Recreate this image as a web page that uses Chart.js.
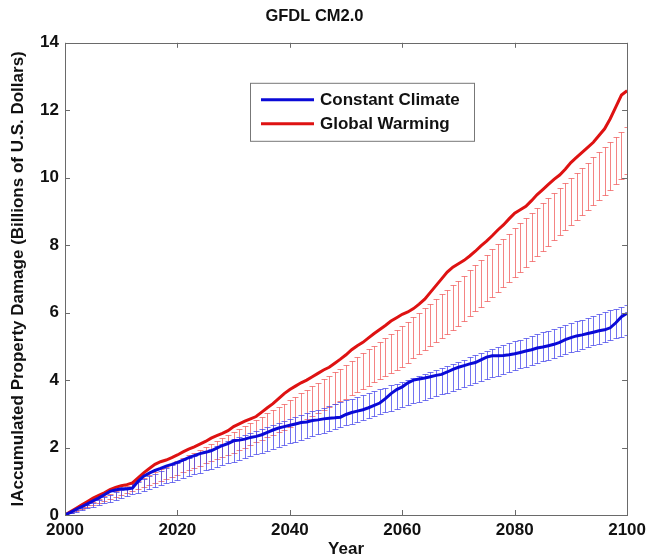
<!DOCTYPE html>
<html>
<head>
<meta charset="utf-8">
<script src="https://cdn.jsdelivr.net/npm/chart.js@4.4.1/dist/chart.umd.min.js"></script>
<style>
  html, body { margin: 0; padding: 0; background: #fff; }
  #wrap { width: 651px; height: 560px; }
</style>
</head>
<body>
<div id="wrap"><canvas id="damage"></canvas></div>
<script>
//================ data ================

// one value per year, 2000 .. 2100
var years = [];
for (var yr = 2000; yr <= 2100; yr++) years.push(yr);

var xTicks = [2000, 2020, 2040, 2060, 2080, 2100];
var yTicks = [0, 2, 4, 6, 8, 10, 12, 14];

// Constant Climate - thick line
var constantMean = [0,
  0.08, 0.17, 0.25, 0.33, 0.42, 0.5, 0.6, 0.7, 0.74, 0.78,
  0.77, 0.8, 1.0, 1.15, 1.24, 1.32, 1.38, 1.45, 1.5, 1.56,
  1.63, 1.7, 1.76, 1.82, 1.86, 1.9, 1.98, 2.06, 2.12, 2.2,
  2.22, 2.25, 2.3, 2.33, 2.38, 2.45, 2.52, 2.58, 2.62, 2.66,
  2.7, 2.74, 2.76, 2.8, 2.82, 2.85, 2.87, 2.88, 2.9, 2.98,
  3.04, 3.08, 3.12, 3.18, 3.25, 3.32, 3.45, 3.6, 3.72, 3.8,
  3.92, 4.0, 4.03, 4.06, 4.1, 4.14, 4.17, 4.24, 4.32, 4.38,
  4.43, 4.48, 4.52, 4.6, 4.68, 4.72, 4.72, 4.73, 4.75, 4.78,
  4.82, 4.86, 4.9, 4.95, 4.98, 5.02, 5.06, 5.12, 5.2, 5.26,
  5.31, 5.34, 5.38, 5.42, 5.46, 5.49, 5.55, 5.7, 5.88, 5.98];

// Constant Climate - error bar top / bottom
var constantHi = [0,
  0.07, 0.15, 0.22, 0.3, 0.37, 0.45, 0.52, 0.6, 0.67, 0.75,
  0.83, 0.91, 0.99, 1.07, 1.15, 1.23, 1.31, 1.39, 1.47, 1.55,
  1.62, 1.69, 1.76, 1.83, 1.9, 1.97, 2.04, 2.11, 2.18, 2.25,
  2.31, 2.37, 2.43, 2.49, 2.55, 2.61, 2.67, 2.73, 2.79, 2.85,
  2.9, 2.96, 3.01, 3.07, 3.12, 3.18, 3.23, 3.29, 3.34, 3.4,
  3.45, 3.51, 3.56, 3.62, 3.67, 3.73, 3.78, 3.84, 3.89, 3.95,
  4.01, 4.07, 4.13, 4.19, 4.25, 4.31, 4.37, 4.43, 4.49, 4.55,
  4.61, 4.67, 4.73, 4.79, 4.85, 4.91, 4.97, 5.03, 5.09, 5.15,
  5.2, 5.26, 5.31, 5.36, 5.42, 5.47, 5.52, 5.58, 5.63, 5.68,
  5.74, 5.79, 5.85, 5.9, 5.96, 6.01, 6.07, 6.12, 6.18, 6.23];
var constantLo = [0,
  0.05, 0.1, 0.15, 0.2, 0.25, 0.3, 0.35, 0.4, 0.45, 0.5,
  0.55, 0.61, 0.66, 0.72, 0.77, 0.83, 0.88, 0.94, 0.99, 1.05,
  1.1, 1.16, 1.21, 1.26, 1.32, 1.37, 1.42, 1.48, 1.53, 1.58,
  1.63, 1.69, 1.74, 1.8, 1.85, 1.9, 1.96, 2.01, 2.07, 2.12,
  2.17, 2.23, 2.28, 2.34, 2.39, 2.44, 2.5, 2.55, 2.61, 2.66,
  2.71, 2.77, 2.82, 2.88, 2.93, 2.98, 3.04, 3.09, 3.15, 3.2,
  3.25, 3.31, 3.36, 3.42, 3.47, 3.52, 3.58, 3.63, 3.69, 3.74,
  3.8, 3.85, 3.91, 3.97, 4.02, 4.08, 4.13, 4.19, 4.24, 4.3,
  4.35, 4.4, 4.46, 4.51, 4.56, 4.61, 4.66, 4.72, 4.77, 4.82,
  4.87, 4.92, 4.98, 5.03, 5.08, 5.13, 5.18, 5.24, 5.29, 5.34];

// Global Warming - thick line
var warmingMean = [0,
  0.1, 0.2, 0.3, 0.4, 0.5, 0.58, 0.66, 0.75, 0.82, 0.87,
  0.9, 0.95, 1.1, 1.25, 1.38, 1.5, 1.58, 1.63, 1.7, 1.78,
  1.87, 1.95, 2.02, 2.1, 2.18, 2.28, 2.35, 2.42, 2.5, 2.62,
  2.7, 2.78, 2.85, 2.92, 3.05, 3.18, 3.3, 3.45, 3.6, 3.72,
  3.82, 3.92, 4.0, 4.1, 4.2, 4.3, 4.38, 4.5, 4.62, 4.75,
  4.9, 5.02, 5.12, 5.25, 5.38, 5.5, 5.62, 5.75, 5.85, 5.95,
  6.02, 6.12, 6.25, 6.4, 6.6, 6.8, 7.0, 7.2, 7.35, 7.45,
  7.55, 7.68, 7.82, 7.98, 8.12, 8.28, 8.45, 8.6, 8.78, 8.95,
  9.05, 9.15, 9.32, 9.5, 9.65, 9.8, 9.95, 10.08, 10.25, 10.45,
  10.6, 10.75, 10.9, 11.05, 11.25, 11.45, 11.75, 12.1, 12.45, 12.58];

// Global Warming - error bar top / bottom
var warmingHi = [0,
  0.08, 0.16, 0.23, 0.31, 0.39, 0.47, 0.55, 0.62, 0.7, 0.78,
  0.86, 0.94, 1.02, 1.1, 1.19, 1.27, 1.35, 1.43, 1.52, 1.6,
  1.68, 1.77, 1.85, 1.94, 2.02, 2.11, 2.19, 2.28, 2.36, 2.45,
  2.54, 2.64, 2.73, 2.83, 2.92, 3.02, 3.11, 3.21, 3.3, 3.4,
  3.5, 3.61, 3.71, 3.82, 3.92, 4.03, 4.13, 4.24, 4.34, 4.45,
  4.56, 4.68, 4.79, 4.91, 5.02, 5.14, 5.25, 5.37, 5.48, 5.6,
  5.73, 5.87, 6.0, 6.14, 6.27, 6.41, 6.54, 6.68, 6.81, 6.95,
  7.1, 7.26, 7.41, 7.57, 7.72, 7.88, 8.03, 8.19, 8.34, 8.5,
  8.65, 8.8, 8.95, 9.1, 9.25, 9.4, 9.55, 9.7, 9.85, 10.0,
  10.15, 10.3, 10.45, 10.6, 10.75, 10.9, 11.05, 11.2, 11.35, 11.5];
var warmingLo = [0,
  0.06, 0.12, 0.17, 0.23, 0.29, 0.35, 0.41, 0.46, 0.52, 0.58,
  0.64, 0.7, 0.77, 0.83, 0.89, 0.95, 1.01, 1.08, 1.14, 1.2,
  1.27, 1.33, 1.4, 1.46, 1.53, 1.59, 1.66, 1.72, 1.79, 1.85,
  1.93, 2.0, 2.08, 2.15, 2.23, 2.3, 2.38, 2.45, 2.53, 2.6,
  2.69, 2.77, 2.86, 2.94, 3.03, 3.11, 3.2, 3.28, 3.37, 3.45,
  3.55, 3.64, 3.74, 3.83, 3.93, 4.02, 4.12, 4.21, 4.31, 4.4,
  4.52, 4.64, 4.76, 4.88, 5.0, 5.12, 5.24, 5.36, 5.48, 5.6,
  5.75, 5.89, 6.04, 6.18, 6.33, 6.47, 6.62, 6.76, 6.91, 7.05,
  7.21, 7.36, 7.52, 7.67, 7.83, 7.98, 8.14, 8.29, 8.45, 8.6,
  8.75, 8.9, 9.05, 9.2, 9.35, 9.5, 9.65, 9.8, 9.95, 10.1];

var seriesNames = ["Constant Climate", "Global Warming"];

//================ styling ================
var BLUE = "rgb(10,10,215)";
var RED = "rgb(222,18,18)";
var BLUE_BAR = "rgba(70,70,235,0.75)";
var RED_BAR = "rgba(240,80,80,0.7)";
var FONT = "'Liberation Sans', Arial, Helvetica, sans-serif";
var FS = 17;

function toPoints(vals) {
    return vals.map(function(v, i) { return {x: years[i], y: v}; });
}

// vertical error bars with little caps, drawn under the thick lines
var errorBarPlugin = {
    id: "errorBars",
    beforeDatasetsDraw: function(chart) {
        var ctx = chart.ctx, xs = chart.scales.x, ys = chart.scales.y, a = chart.chartArea;
        var sets = [[warmingLo, warmingHi, RED_BAR], [constantLo, constantHi, BLUE_BAR]];
        ctx.save();
        ctx.beginPath();
        ctx.rect(a.left, a.top, a.right - a.left, a.bottom - a.top);
        ctx.clip();
        ctx.lineWidth = 1;
        sets.forEach(function(s) {
            ctx.strokeStyle = s[2];
            for (var i = 1; i < years.length; i++) {
                var px = Math.round(xs.getPixelForValue(years[i])) + 0.5;
                var top = Math.round(ys.getPixelForValue(s[1][i])) + 0.5;
                var bot = Math.round(ys.getPixelForValue(s[0][i])) + 0.5;
                ctx.beginPath();
                ctx.moveTo(px, top); ctx.lineTo(px, bot);
                ctx.moveTo(px - 3, top); ctx.lineTo(px + 3, top);
                ctx.moveTo(px - 3, bot); ctx.lineTo(px + 3, bot);
                ctx.stroke();
            }
        });
        ctx.restore();
    }
};

// matlab style box, inward ticks on all four sides, boxed legend
var framePlugin = {
    id: "frame",
    afterDraw: function(chart) {
        var ctx = chart.ctx, xs = chart.scales.x, ys = chart.scales.y, a = chart.chartArea;
        ctx.save();
        ctx.strokeStyle = "#6a6a6a";
        ctx.lineWidth = 1;
        ctx.strokeRect(Math.round(a.left) + 0.5, Math.round(a.top) + 0.5,
            Math.round(a.right - a.left), Math.round(a.bottom - a.top));
        ctx.beginPath();
        xTicks.forEach(function(t) {
            var px = Math.round(xs.getPixelForValue(t)) + 0.5;
            ctx.moveTo(px, a.bottom); ctx.lineTo(px, a.bottom - 5);
            ctx.moveTo(px, a.top); ctx.lineTo(px, a.top + 5);
        });
        yTicks.forEach(function(t) {
            var py = Math.round(ys.getPixelForValue(t)) + 0.5;
            ctx.moveTo(a.left, py); ctx.lineTo(a.left + 5, py);
            ctx.moveTo(a.right, py); ctx.lineTo(a.right - 5, py);
        });
        ctx.stroke();

        // legend
        var lx = a.left + 185, ly = a.top + 40, lw = 224, lh = 58;
        ctx.fillStyle = "#fff";
        ctx.fillRect(lx, ly, lw, lh);
        ctx.strokeStyle = "#777";
        ctx.strokeRect(lx + 0.5, ly + 0.5, lw, lh);
        var colors = [BLUE, RED];
        ctx.font = "bold " + FS + "px " + FONT;
        ctx.textBaseline = "middle";
        seriesNames.forEach(function(name, k) {
            var yy = ly + 17 + k * 24;
            ctx.strokeStyle = colors[k];
            ctx.lineWidth = 3;
            ctx.beginPath();
            ctx.moveTo(lx + 11, yy); ctx.lineTo(lx + 64, yy);
            ctx.stroke();
            ctx.fillStyle = "#111";
            ctx.fillText(name, lx + 70, yy + 1);
        });
        ctx.restore();
    }
};

//================ chart ================
var chrt = document.getElementById("damage").getContext("2d");
var damageChart = new Chart(chrt, {
    type: "line",
    data: {
        datasets: [{
            label: seriesNames[0],
            data: toPoints(constantMean),
            borderColor: BLUE,
            borderWidth: 3,
            pointRadius: 0,
            tension: 0
        }, {
            label: seriesNames[1],
            data: toPoints(warmingMean),
            borderColor: RED,
            borderWidth: 3,
            pointRadius: 0,
            tension: 0
        }]
    },
    options: {
        responsive: true,
        maintainAspectRatio: false,
        animation: false,
        layout: { padding: { left: 0, right: 22, top: 0, bottom: 0 } },
        plugins: {
            legend: { display: false },
            tooltip: { enabled: false },
            title: {
                display: true,
                text: "GFDL CM2.0",
                color: "#111",
                font: { family: FONT, size: 16.5, weight: "bold" },
                padding: { top: 7, bottom: 16 }
            }
        },
        scales: {
            x: {
                type: "linear",
                min: 2000,
                max: 2100,
                afterBuildTicks: function(scale) {
                    scale.ticks = xTicks.map(function(v) { return {value: v}; });
                },
                afterFit: function(scale) { scale.height = 45; },
                grid: { display: false, drawTicks: false },
                border: { display: false },
                ticks: {
                    color: "#111",
                    padding: 5,
                    font: { family: FONT, size: FS, weight: "bold" },
                    callback: function(v) { return String(v); }
                },
                title: {
                    display: true,
                    text: "Year",
                    color: "#111",
                    padding: { top: 0, bottom: 0 },
                    font: { family: FONT, size: FS, weight: "bold" }
                }
            },
            y: {
                min: 0,
                max: 14,
                afterBuildTicks: function(scale) {
                    scale.ticks = yTicks.map(function(v) { return {value: v}; });
                },
                afterFit: function(scale) { scale.width = 65; },
                grid: { display: false, drawTicks: false },
                border: { display: false },
                ticks: {
                    color: "#111",
                    padding: 6,
                    font: { family: FONT, size: FS, weight: "bold" }
                },
                title: {
                    display: true,
                    text: "lAccumulated Property Damage (Billions of U.S. Dollars)",
                    color: "#111",
                    padding: { top: 8, bottom: 0 },
                    font: { family: FONT, size: FS, weight: "bold" }
                }
            }
        }
    },
    plugins: [errorBarPlugin, framePlugin]
});
</script>
</body>
</html>
